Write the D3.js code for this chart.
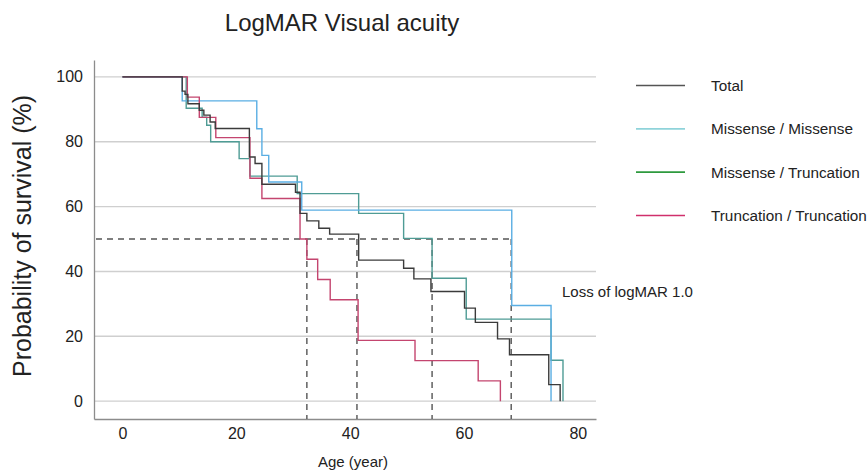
<!DOCTYPE html>
<html>
<head>
<meta charset="utf-8">
<script src="https://cdn.jsdelivr.net/npm/d3@7"></script>
<style>
  body { margin: 0; background: #fff; }
  text { font-family: "Liberation Sans", Arial, sans-serif; fill: #222; }
</style>
</head>
<body>
<div id="chart"></div>
<script>
// Kaplan-Meier steps: age (year) and survival (%)
var totalAge = [0, 10.5, 11.0, 11.5, 13.5, 14.3, 15.4, 16.3, 22.3, 23.3, 24.5, 30.4, 31.2, 32.4, 34.5, 36.4, 41.5, 49.4, 51.2, 54.2, 60.1, 62.0, 65.9, 68.0, 74.9, 76.9];
var totalSurv = [100, 95.6, 94.6, 91.7, 89.7, 88.2, 86.1, 84.1, 75.3, 73.3, 66.9, 64.4, 57.9, 55.6, 53.3, 51.5, 43.5, 41.0, 37.7, 33.8, 28.7, 24.3, 19.2, 14.3, 5.1, 0];
var mmAge = [0, 10.5, 23.6, 24.5, 25.7, 31.5, 68.4, 75.3];
var mmSurv = [100, 92.6, 84.0, 75.8, 67.6, 58.9, 29.5, 0];
var mtAge = [0, 11.2, 14.0, 14.8, 15.5, 20.5, 22.4, 30.7, 41.5, 49.4, 54.4, 60.4, 75.3, 77.4];
var mtSurv = [100, 90.3, 87.6, 85.1, 80.0, 74.8, 69.4, 64.0, 57.9, 50.2, 37.9, 25.3, 12.6, 0];
var ttAge = [0, 11.4, 13.5, 16.4, 22.4, 24.5, 31.2, 32.4, 34.3, 36.5, 41.4, 51.4, 62.5, 66.4];
var ttSurv = [100, 93.75, 87.5, 81.25, 68.75, 62.5, 50, 43.75, 37.5, 31.25, 18.75, 12.5, 6.25, 0];
var medians = [32.4, 41.2, 54.4, 68.3];
var xTicks = [0, 20, 40, 60, 80];
var yTicks = [0, 20, 40, 60, 80, 100];
var legendNames = ["Total", "Missense / Missense", "Missense / Truncation", "Truncation / Truncation"];

var width = 868, height = 471;

var svg = d3.select("#chart").append("svg")
    .attr("width", width).attr("height", height);

var x = d3.scaleLinear().domain([-5, 83.2]).range([94, 596]);
var y = d3.scaleLinear().domain([-5.5, 105.2]).range([419, 60]);

// title
svg.append("text").attr("x", 342).attr("y", 31)
   .attr("text-anchor", "middle").style("font-size", "24px").text("LogMAR Visual acuity");

// grid lines
svg.append("g").selectAll("line").data(yTicks).join("line")
   .attr("x1", x(-5)).attr("x2", x(83.2))
   .attr("y1", d => y(d)).attr("y2", d => y(d))
   .attr("stroke", "#cfcfcf").attr("stroke-width", 1.4);

// axes
var xAxis = svg.append("g").attr("transform", "translate(0," + y(-5.5) + ")")
   .call(d3.axisBottom(x).tickValues(xTicks).tickSize(0).tickPadding(9));
xAxis.select(".domain").attr("stroke", "#8c8c8c").attr("stroke-width", 1.3);
xAxis.selectAll("text").style("font-size", "16px").style("font-family", "Liberation Sans, Arial, sans-serif").attr("fill", "#222");

var yAxis = svg.append("g").attr("transform", "translate(" + x(-5) + ",0)")
   .call(d3.axisLeft(y).tickValues(yTicks).tickSize(0).tickPadding(11));
yAxis.select(".domain").attr("stroke", "#8c8c8c").attr("stroke-width", 1.3);
yAxis.selectAll("text").style("font-size", "16px").style("font-family", "Liberation Sans, Arial, sans-serif").attr("fill", "#222");

// axis titles
svg.append("text").attr("transform", "translate(31,236) rotate(-90)")
   .attr("text-anchor", "middle").style("font-size", "25px").text("Probability of survival (%)");
svg.append("text").attr("x", 353).attr("y", 467)
   .attr("text-anchor", "middle").style("font-size", "15px").text("Age (year)");

// median reference lines
var dash = svg.append("g").attr("stroke", "#555").attr("stroke-width", 1.4)
   .attr("stroke-dasharray", "6,5").attr("fill", "none");
dash.append("line").attr("x1", x(-5) + 2).attr("x2", x(d3.max(medians)))
   .attr("y1", y(50)).attr("y2", y(50));
dash.selectAll("line.v").data(medians).join("line").attr("class", "v")
   .attr("x1", d => x(d)).attr("x2", d => x(d))
   .attr("y1", y(50)).attr("y2", y(-5.5));

// survival curves
var line = d3.line().x(d => x(d[0])).y(d => y(d[1])).curve(d3.curveStepAfter);
function pairs(a, s) { return a.map((v, i) => [v, s[i]]); }

var curves = [
  { data: pairs(mtAge, mtSurv), color: "#4f9c95" },
  { data: pairs(mmAge, mmSurv), color: "#5aaee3" },
  { data: pairs(ttAge, ttSurv), color: "#c4456f" },
  { data: pairs(totalAge, totalSurv), color: "#3b3b3b" }
];
svg.append("g").selectAll("path").data(curves).join("path")
   .attr("d", d => line(d.data))
   .attr("fill", "none").attr("stroke", d => d.color).attr("stroke-width", 1.4);

// annotation
svg.append("text").attr("x", 562).attr("y", 297).style("font-size", "15px").text("Loss of logMAR 1.0");

// legend
var legendColors = ["#555555", "#8fd3da", "#2e9a3e", "#d0306c"];
var legendY = d3.scalePoint().domain(legendNames).range([85.5, 215.5]);
var leg = svg.append("g").selectAll("g").data(legendNames).join("g")
   .attr("transform", d => "translate(0," + legendY(d) + ")");
leg.append("line").attr("x1", 636).attr("x2", 685)
   .attr("stroke", (d, i) => legendColors[i]).attr("stroke-width", 1.6);
leg.append("text").attr("x", 711).attr("y", 5.5).style("font-size", "15.3px").text(d => d);
</script>
</body>
</html>
